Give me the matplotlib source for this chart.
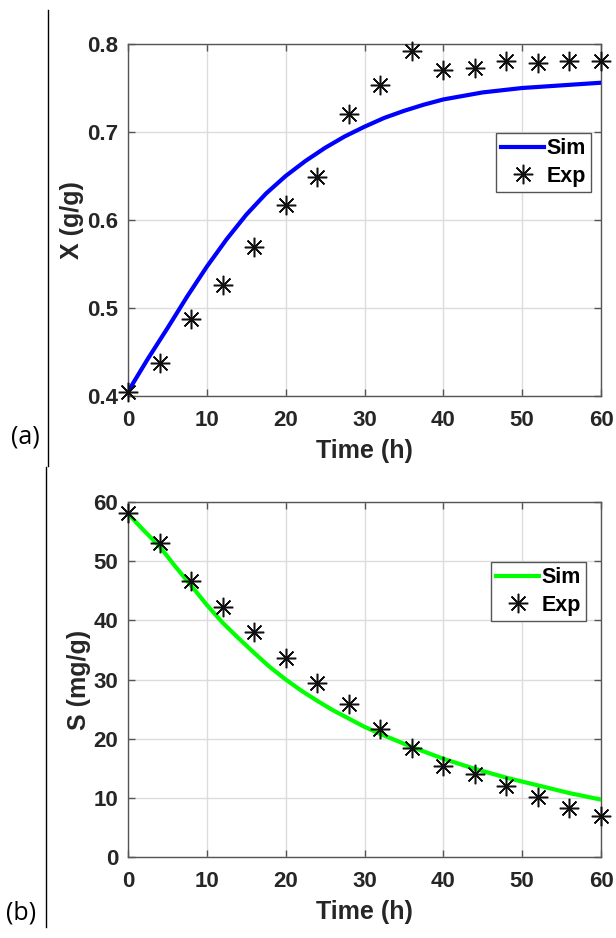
import numpy as np
import matplotlib.pyplot as plt
from matplotlib.lines import Line2D

# experimental sampling times (h)
t_exp = [0, 4, 8, 12, 16, 20, 24, 28, 32, 36, 40, 44, 48, 52, 56, 60]

# (a) biomass X (g/g)
x_exp = [0.405, 0.438, 0.488, 0.526, 0.569, 0.617, 0.649, 0.721, 0.753, 0.792,
         0.771, 0.773, 0.781, 0.778, 0.781, 0.781]
t_sim_x = [0, 2.5, 5, 7.5, 10, 12.5, 15, 17.5, 20, 22.5, 25, 27.5, 30, 32.5, 35,
           37.5, 40, 45, 50, 55, 60]
x_sim = [0.405, 0.442, 0.477, 0.513, 0.547, 0.578, 0.606, 0.630, 0.650, 0.667,
         0.682, 0.695, 0.706, 0.716, 0.724, 0.731, 0.737, 0.745, 0.750, 0.753, 0.756]

# (b) substrate S (mg/g)
s_exp = [58.1, 53.1, 46.7, 42.3, 38.0, 33.7, 29.4, 25.8, 21.6, 18.5, 15.3, 14.1,
         12.0, 10.1, 8.3, 6.9]
t_sim_s = [0, 2, 4, 6, 8, 10, 12, 14, 16, 18, 20, 22, 24, 26, 28, 30, 32, 34, 36,
           38, 40, 44, 48, 52, 56, 60]
s_sim = [58.0, 55.2, 52.5, 49.1, 45.9, 42.6, 39.6, 37.0, 34.5, 32.1, 30.0, 28.1,
         26.4, 24.8, 23.4, 22.0, 20.8, 19.7, 18.6, 17.6, 16.6, 14.9, 13.4, 12.1,
         10.8, 9.7]

tick_font = dict(family='Liberation Sans', weight='bold', size=16)
label_font = dict(family='Liberation Sans', weight='bold', size=18)
dark = '#262626'

fig = plt.figure(figsize=(6.16, 9.38), dpi=100)
axa = fig.add_axes([128/616, 1-396/938, 473/616, 352/938])
axb = fig.add_axes([128/616, 1-857/938, 473/616, 355/938])

star = (8, 2, 0)


def style(ax, yticks, ylabel):
    ax.set_xlim(0, 60)
    ax.set_xticks([0, 10, 20, 30, 40, 50, 60])
    ax.set_yticks(yticks)
    ax.set_ylim(yticks[0], yticks[-1])
    ax.grid(True, color='#dcdcdc', lw=1)
    ax.set_axisbelow(True)
    for sp in ax.spines.values():
        sp.set_color('#555555')
        sp.set_linewidth(1)
    ax.tick_params(direction='in', top=True, right=True, length=5, width=1,
                   colors='#555555', labelcolor=dark)
    ax.tick_params(axis='x', pad=10)
    ax.tick_params(axis='y', pad=7)
    for lab in ax.get_xticklabels() + ax.get_yticklabels():
        lab.set_fontproperties(tick_font)
    ax.set_xlabel('Time (h)', fontdict=label_font, color=dark, labelpad=6)
    ax.set_ylabel(ylabel, fontdict=label_font, color=dark, labelpad=2)


axa.plot(t_sim_x, x_sim, color='#0000ff', lw=3, label='Sim', zorder=3)
axa.plot(t_exp, x_exp, ls='none', marker=star, ms=14, mew=1.1, color='#111111',
         label='Exp', zorder=4, clip_on=False)
style(axa, [0.4, 0.5, 0.6, 0.7, 0.8], 'X (g/g)')
axa.set_yticklabels(['0.4', '0.5', '0.6', '0.7', '0.8'])

axb.plot(t_sim_s, s_sim, color='#00ff00', lw=3, label='Sim', zorder=3)
axb.plot(t_exp, s_exp, ls='none', marker=star, ms=14, mew=1.1, color='#111111',
         label='Exp', zorder=4, clip_on=False)
style(axb, [0, 10, 20, 30, 40, 50, 60], 'S (mg/g)')

leg_font = dict(family='Liberation Sans', weight='bold', size=15.5)
for ax, anchor in [(axa, (591/616, 1-133/938)), (axb, (586/616, 1-562/938))]:
    leg = ax.legend(loc='upper right', bbox_to_anchor=anchor,
                    bbox_transform=fig.transFigure, borderaxespad=0,
                    prop=leg_font, fancybox=False, framealpha=1,
                    edgecolor='#555555', handlelength=2.0,
                    handletextpad=0.1, borderpad=0.25, labelspacing=0.3)
    leg.get_frame().set_linewidth(1)

# panel labels and separator lines
fig.text(25/616, 1-437/938, '(a)', fontsize=18, family='Open Sans',
         ha='center', va='center')
fig.text(21/616, 1-913/938, '(b)', fontsize=18, family='Open Sans',
         ha='center', va='center')
fig.add_artist(Line2D([48/616, 48/616], [1-10/938, 1-466/938], color='black', lw=1))
fig.add_artist(Line2D([46/616, 46/616], [1-467/938, 1-927/938], color='black', lw=1))

fig.savefig('out.png', dpi=100)
